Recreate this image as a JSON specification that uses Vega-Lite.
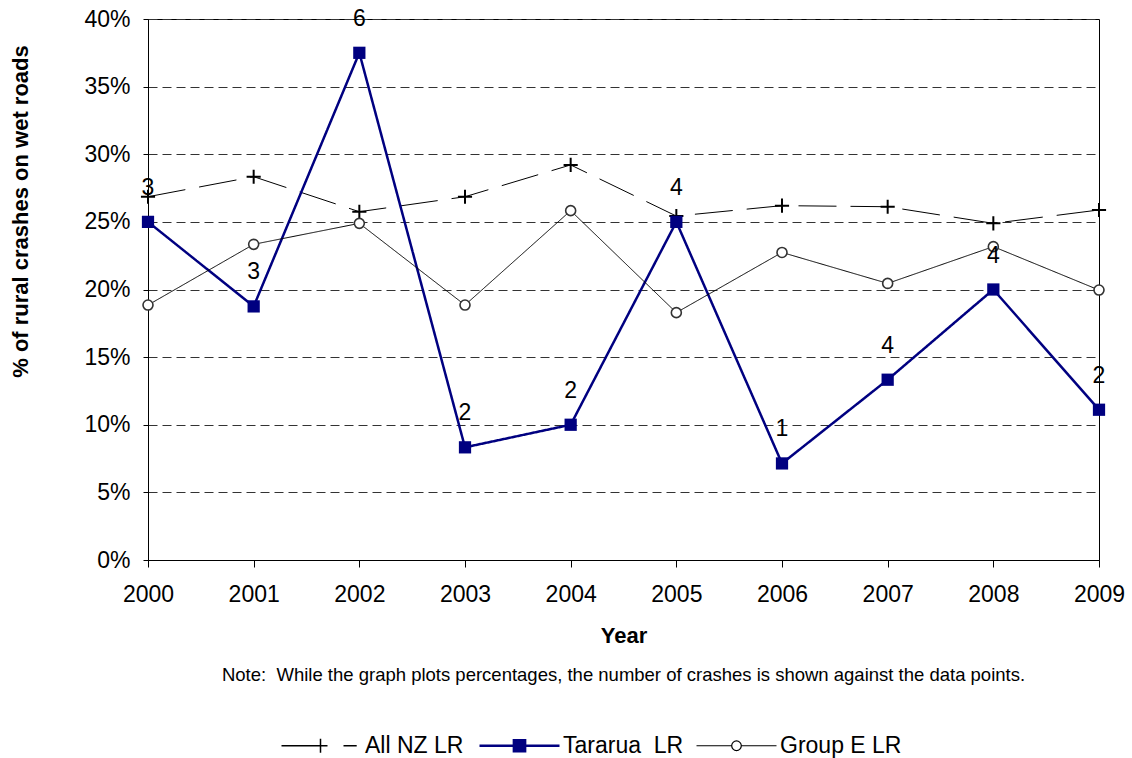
{
  "$schema": "https://vega.github.io/schema/vega-lite/v6.json",
  "autosize": {"type": "none"},
  "width": 951,
  "height": 541,
  "padding": {"left": 148, "top": 19, "right": 33, "bottom": 198},
  "background": "white",
  "config": {
    "font": "Liberation Sans",
    "view": {"stroke": "black", "strokeWidth": 1}
  },
  "title": {
    "text": "Note:\u00a0 While the graph plots percentages, the number of crashes is shown against the data points.",
    "orient": "bottom",
    "anchor": "middle",
    "fontSize": 18.5,
    "fontWeight": "normal",
    "font": "Liberation Sans",
    "color": "black",
    "baseline": "top",
    "offset": -92
  },
  "data": {
    "values": [
      {"Year": 2000, "Series": "All NZ LR", "Pct": 0.2686},
      {"Year": 2001, "Series": "All NZ LR", "Pct": 0.2834},
      {"Year": 2002, "Series": "All NZ LR", "Pct": 0.2575},
      {"Year": 2003, "Series": "All NZ LR", "Pct": 0.2686},
      {"Year": 2004, "Series": "All NZ LR", "Pct": 0.2921},
      {"Year": 2005, "Series": "All NZ LR", "Pct": 0.2543},
      {"Year": 2006, "Series": "All NZ LR", "Pct": 0.262},
      {"Year": 2007, "Series": "All NZ LR", "Pct": 0.2612},
      {"Year": 2008, "Series": "All NZ LR", "Pct": 0.2489},
      {"Year": 2009, "Series": "All NZ LR", "Pct": 0.2588},
      {"Year": 2000, "Series": "Tararua  LR", "Pct": 0.25, "Crashes": 3},
      {"Year": 2001, "Series": "Tararua  LR", "Pct": 0.1875, "Crashes": 3},
      {"Year": 2002, "Series": "Tararua  LR", "Pct": 0.375, "Crashes": 6},
      {"Year": 2003, "Series": "Tararua  LR", "Pct": 0.0833, "Crashes": 2},
      {"Year": 2004, "Series": "Tararua  LR", "Pct": 0.1, "Crashes": 2},
      {"Year": 2005, "Series": "Tararua  LR", "Pct": 0.25, "Crashes": 4},
      {"Year": 2006, "Series": "Tararua  LR", "Pct": 0.0714, "Crashes": 1},
      {"Year": 2007, "Series": "Tararua  LR", "Pct": 0.1333, "Crashes": 4},
      {"Year": 2008, "Series": "Tararua  LR", "Pct": 0.2, "Crashes": 4},
      {"Year": 2009, "Series": "Tararua  LR", "Pct": 0.1111, "Crashes": 2},
      {"Year": 2000, "Series": "Group E LR", "Pct": 0.1885},
      {"Year": 2001, "Series": "Group E LR", "Pct": 0.2334},
      {"Year": 2002, "Series": "Group E LR", "Pct": 0.2489},
      {"Year": 2003, "Series": "Group E LR", "Pct": 0.1885},
      {"Year": 2004, "Series": "Group E LR", "Pct": 0.2583},
      {"Year": 2005, "Series": "Group E LR", "Pct": 0.1829},
      {"Year": 2006, "Series": "Group E LR", "Pct": 0.2274},
      {"Year": 2007, "Series": "Group E LR", "Pct": 0.2045},
      {"Year": 2008, "Series": "Group E LR", "Pct": 0.2317},
      {"Year": 2009, "Series": "Group E LR", "Pct": 0.1996}
    ]
  },
  "encoding": {
    "x": {
      "field": "Year",
      "type": "quantitative",
      "scale": {"domain": [2000, 2009], "nice": false, "zero": false},
      "axis": {
        "title": "Year",
        "values": [2000, 2001, 2002, 2003, 2004, 2005, 2006, 2007, 2008, 2009],
        "format": "d",
        "grid": false,
        "labelFlush": false,
        "labelFontSize": 23,
        "labelColor": "black",
        "labelPadding": 16,
        "tickSize": 7,
        "tickColor": "black",
        "domainColor": "black",
        "titleFontSize": 22,
        "titleFontWeight": "bold",
        "titleColor": "black",
        "titlePadding": 19
      }
    },
    "y": {
      "field": "Pct",
      "type": "quantitative",
      "scale": {"domain": [0, 0.4], "nice": false},
      "axis": {
        "title": "% of rural crashes on wet roads",
        "values": [0, 0.05, 0.1, 0.15, 0.2, 0.25, 0.3, 0.35, 0.4],
        "format": ".0%",
        "labelFlush": false,
        "labelFontSize": 23,
        "labelColor": "black",
        "labelPadding": 13,
        "tickSize": 5,
        "tickColor": "black",
        "domainColor": "black",
        "grid": true,
        "gridColor": "#333333",
        "gridDash": [9, 5],
        "gridWidth": 1,
        "titleFontSize": 22,
        "titleFontWeight": "bold",
        "titleColor": "black",
        "titleAngle": -90,
        "titleAlign": "center",
        "titleBaseline": "middle",
        "titleX": -128,
        "titleY": 192
      }
    }
  },
  "layer": [
    {
      "mark": {"type": "line"},
      "encoding": {
        "color": {
          "field": "Series",
          "type": "nominal",
          "scale": {
            "domain": ["All NZ LR", "Tararua  LR", "Group E LR"],
            "range": ["#000000", "#000080", "#000000"]
          },
          "legend": {
            "orient": "none",
            "legendX": 162,
            "legendY": 715,
            "direction": "horizontal",
            "title": null,
            "labelFontSize": 23,
            "labelColor": "black",
            "labelFont": "Liberation Sans",
            "labelLimit": 400,
            "labelOffset": 32,
            "labelExpr": "datum.label == 'Tararua  LR' ? 'Tararua\u00a0 LR' : datum.label",
            "columnPadding": 10,
            "symbolSize": 6400,
            "encode": {
              "symbols": {
                "update": {
                  "shape": {"signal": "datum.value == 'All NZ LR' ? 'M -1 0 L -0.05 0 M -0.2 0 L 0.15 0 M -0.025 -0.175 L -0.025 0.175 M 0.55 0 L 0.88 0' : datum.value == 'Tararua  LR' ? 'M -1 0 L 1 0 M -0.14 -0.14 L 0.14 -0.14 L 0.14 0.14 L -0.14 0.14 Z' : 'M -1 0 L -0.12 0 M 0.12 0 L 1 0 M 0.12 0 A 0.12 0.12 0 1 1 -0.12 0 A 0.12 0.12 0 1 1 0.12 0'"},
                  "fill": {"signal": "datum.value == 'Tararua  LR' ? '#000080' : 'transparent'"},
                  "stroke": {"signal": "datum.value == 'Tararua  LR' ? '#000080' : datum.value == 'All NZ LR' ? '#000000' : '#333333'"},
                  "strokeWidth": {"signal": "datum.value == 'Tararua  LR' ? 2.5 : datum.value == 'All NZ LR' ? 1.5 : 1.2"},
                  "strokeDash": {"value": []},
                  "opacity": {"value": 1}
                }
              }
            }
          }
        },
        "strokeDash": {
          "condition": {"test": "datum.Series == 'All NZ LR'", "value": [38, 14]},
          "value": [1, 0]
        },
        "strokeWidth": {
          "condition": {"test": "datum.Series == 'Tararua  LR'", "value": 2.5},
          "value": 1
        }
      }
    },
    {
      "transform": [{"filter": "datum.Series == 'All NZ LR'"}],
      "mark": {"type": "point", "shape": "M -1 0 L 1 0 M 0 -1 L 0 1", "size": 200, "filled": false, "stroke": "black", "strokeWidth": 2, "opacity": 1}
    },
    {
      "transform": [{"filter": "datum.Series == 'Group E LR'"}],
      "mark": {"type": "point", "shape": "circle", "size": 100, "filled": true, "fill": "white", "stroke": "#333333", "strokeWidth": 1.6, "opacity": 1}
    },
    {
      "transform": [{"filter": "datum.Series == 'Tararua  LR'"}],
      "mark": {"type": "point", "shape": "square", "size": 150, "filled": true, "fill": "#000080", "opacity": 1}
    },
    {
      "transform": [{"filter": "datum.Series == 'Tararua  LR'"}],
      "mark": {"type": "text", "dy": -34, "fontSize": 23, "font": "Liberation Sans", "color": "black", "baseline": "middle", "align": "center"},
      "encoding": {"text": {"field": "Crashes", "type": "quantitative"}}
    }
  ]
}
